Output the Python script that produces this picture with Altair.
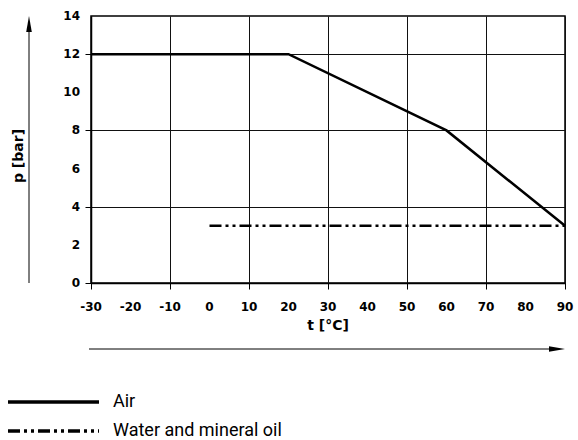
import altair as alt
import pandas as pd

# Data
air_t = [-30, 20, 60, 90]
air_p = [12, 12, 8, 3]
water_t = [0, 90]
water_p = [3, 3]
x_ticks = [-30, -20, -10, 0, 10, 20, 30, 40, 50, 60, 70, 80, 90]
y_ticks = [0, 2, 4, 6, 8, 10, 12, 14]
legend_labels = ["Air", "Water and mineral oil"]

W, H = 474, 267
TICK_FONT = "DejaVu Sans"
LEG_FONT = "Roboto, sans-serif"

air = pd.DataFrame({"t": air_t, "p": air_p})
water = pd.DataFrame({"t": water_t, "p": water_p})
xlab = pd.DataFrame({"t": x_ticks, "lab": [str(v) for v in x_ticks]})
ylab = pd.DataFrame({"p": y_ticks, "lab": [str(v) for v in y_ticks]})
one = pd.DataFrame({"a": [0]})

xs = alt.Scale(domain=[-30, 90], nice=False)
ys = alt.Scale(domain=[0, 14], nice=False)

xaxis = alt.Axis(values=x_ticks, title=None, grid=True, gridColor="#111", gridWidth=1,
                 domainColor="black", domainWidth=1.5, tickColor="black", tickSize=6,
                 labels=False)
yaxis = alt.Axis(values=y_ticks, title=None, grid=True, gridColor="#111", gridWidth=1,
                 domainColor="black", domainWidth=1.5, tickColor="black", tickSize=6,
                 labels=False)

air_line = alt.Chart(air).mark_line(color="black", strokeWidth=2.5).encode(
    x=alt.X("t:Q", scale=xs, axis=xaxis),
    y=alt.Y("p:Q", scale=ys, axis=yaxis),
)
water_line = alt.Chart(water).mark_line(color="black", strokeWidth=2.5,
                                        strokeDash=[12, 4, 3, 4, 3, 4]).encode(
    x=alt.X("t:Q", scale=xs), y=alt.Y("p:Q", scale=ys))

# tick labels
x_labels = alt.Chart(xlab).mark_text(font=TICK_FONT, fontSize=12, fontWeight="bold",
                                     color="black", baseline="middle").encode(
    x=alt.X("t:Q", scale=xs), y=alt.value(H + 24), text="lab:N")
y_labels = alt.Chart(ylab).mark_text(font=TICK_FONT, fontSize=12, fontWeight="bold",
                                     color="black", baseline="middle", align="right").encode(
    y=alt.Y("p:Q", scale=ys), x=alt.value(-11), text="lab:N")

base = alt.Chart(one)

# y-axis arrow and title
y_arrow = base.mark_rule(color="black", strokeWidth=1).encode(
    x=alt.value(-62), y=alt.value(8), y2=alt.value(267))
y_head = base.mark_point(shape="M0,-1 L0.35,1 L-0.35,1 Z", filled=True, color="black",
                         opacity=1, size=256).encode(x=alt.value(-62), y=alt.value(8))
y_title = base.mark_text(text="p [bar]", angle=270, font=TICK_FONT, fontSize=14,
                         fontWeight="bold", color="black").encode(x=alt.value(-72), y=alt.value(140))

# x-axis arrow and title
x_arrow = base.mark_rule(color="black", strokeWidth=1).encode(
    x=alt.value(-2), x2=alt.value(465), y=alt.value(333))
x_head = base.mark_point(shape="M1,0 L-1,0.35 L-1,-0.35 Z", filled=True, color="black",
                         opacity=1, size=256).encode(x=alt.value(466), y=alt.value(333))
x_title = base.mark_text(text="t [°C]", font=TICK_FONT, fontSize=14, fontWeight="bold",
                         color="black").encode(x=alt.value(237), y=alt.value(310))

# legend
leg1 = base.mark_rule(color="black", strokeWidth=3.5).encode(
    x=alt.value(-83), x2=alt.value(8), y=alt.value(386))
leg2 = base.mark_rule(color="black", strokeWidth=3.5, strokeDash=[12, 4, 3, 4, 3, 4]).encode(
    x=alt.value(-83), x2=alt.value(8), y=alt.value(415))
leg1_t = base.mark_text(text=legend_labels[0], align="left", baseline="middle", font=LEG_FONT,
                        fontSize=18, color="black").encode(x=alt.value(22), y=alt.value(386))
leg2_t = base.mark_text(text=legend_labels[1], align="left", baseline="middle", font=LEG_FONT,
                        fontSize=18, color="black").encode(x=alt.value(22), y=alt.value(415))

chart = alt.layer(
    air_line, water_line, x_labels, y_labels, y_arrow, y_head, y_title,
    x_arrow, x_head, x_title, leg1, leg2, leg1_t, leg2_t
).properties(
    width=W, height=H,
    autosize=alt.AutoSizeParams(type="none"),
    padding={"left": 83, "top": 8, "right": 13, "bottom": 156},
).configure_view(stroke="black", strokeWidth=1.5)

chart.save("out.html", embed_options={"renderer": "svg", "actions": False})

# keep the page from growing scrollbars (no right/bottom body margin)
with open("out.html") as f:
    html = f.read()
html = html.replace(
    "<head>",
    "<head><style>html,body{overflow:hidden;} body{margin:8px 0 0 8px;}</style>", 1)
with open("out.html", "w") as f:
    f.write(html)
